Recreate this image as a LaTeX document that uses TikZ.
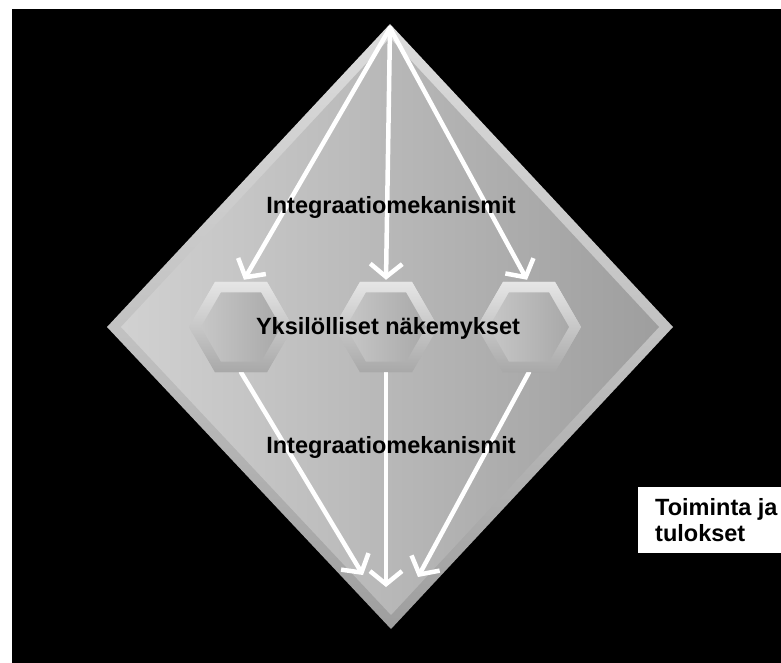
\documentclass[tikz,border=0pt]{standalone}
\usepackage{fontspec}
\setmainfont{Liberation Sans}
\usetikzlibrary{shapes.geometric,arrows.meta,calc}
\definecolor{bevtop}{gray}{0.86}
\definecolor{bevmid}{gray}{0.76}
\definecolor{bevbot}{gray}{0.62}
\definecolor{dleft}{gray}{0.82}
\definecolor{dmid}{gray}{0.72}
\definecolor{dright}{gray}{0.62}
\definecolor{hxtop}{gray}{0.90}
\definecolor{hxbot}{gray}{0.66}
\definecolor{hxl}{gray}{0.78}
\definecolor{hxr}{gray}{0.66}
\begin{document}
\begin{tikzpicture}[x=1pt,y=-1pt,
  arr/.style={draw=white, line width=4.5pt, line cap=round,
    -{Straight Barb[length=13pt,width=32pt]}},
  hexa/.style={regular polygon, regular polygon sides=6, minimum size=104pt,
    inner sep=0pt, draw=none, top color=hxtop, bottom color=hxbot},
  hexin/.style={regular polygon, regular polygon sides=6, minimum size=80pt,
    inner sep=0pt, draw=none, left color=hxl, right color=hxr},
  lbl/.style={font=\bfseries\fontsize{23.5}{26}\selectfont, text=black, inner sep=0pt}]
\useasboundingbox (0,0) rectangle (781,663);
\fill[white] (0,0) rectangle (781,663);
\fill[black] (12,9) rectangle (781,663);
% diamond
\coordinate (dt) at (390,24);
\coordinate (dr) at (673,327);
\coordinate (db) at (391,629);
\coordinate (dl) at (107,327);
\coordinate (it) at (390,38);
\coordinate (ir) at (659,327);
\coordinate (ib) at (391,615);
\coordinate (il) at (121,327);
\path[top color=bevtop, bottom color=bevbot, middle color=bevmid] (dt) -- (dr) -- (db) -- (dl) -- cycle;
\path[left color=dleft, right color=dright, middle color=dmid] (it) -- (ir) -- (ib) -- (il) -- cycle;
% hexagon positions
\coordinate (apex) at (390,28);
\node[hexa] (h1) at (241,327) {};
\node[hexa] (h2) at (386,327) {};
\node[hexa] (h3) at (529,327) {};
\coordinate (e1) at (363,575);
\coordinate (e2) at (386,587);
\coordinate (e3) at (418,577);
% arrows
\draw[arr] (apex) -- ($(h1.north)+(3,-2)$);
\draw[arr] (apex) -- ($(h2.north)+(0,-2)$);
\draw[arr] (apex) -- ($(h3.north)+(-2,-2)$);
\draw[arr] (h1.south) -- (e1);
\draw[arr] (h2.south) -- (e2);
\draw[arr] (h3.south) -- (e3);
% hexagons on top
\node[hexa] at (h1) {};
\node[hexa] at (h2) {};
\node[hexa] at (h3) {};
\node[hexin] (i1) at (h1) {};
\node[hexin] (i2) at (h2) {};
\node[hexin] (i3) at (h3) {};
% labels
\node[lbl] (int1) at (391,207) {Integraatiomekanismit};
\node[lbl] (yks) at (388,328) {Yksilölliset näkemykset};
\node[lbl] (int2) at (391,447) {Integraatiomekanismit};
\node[fill=white, draw=none, minimum width=143pt, minimum height=66pt,
  anchor=north west, inner sep=0pt] (resbox) at (638,487) {};
\node[lbl, anchor=west, align=left] (restext) at (655,520) {Toiminta ja\\tulokset};
\end{tikzpicture}
\end{document}
